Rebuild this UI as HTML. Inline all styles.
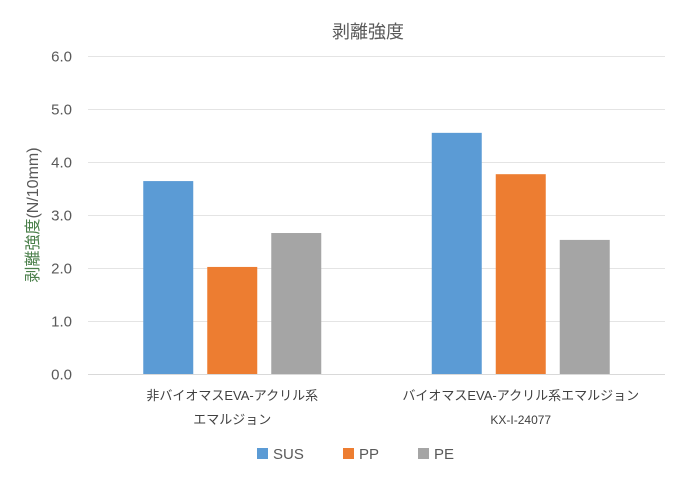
<!DOCTYPE html>
<html><head><meta charset="utf-8"><style>
body{margin:0;background:#fff;}
svg text{font-family:"Liberation Sans","Noto Sans CJK JP",sans-serif;}
</style></head><body>
<svg id="chart" width="679" height="491" xmlns="http://www.w3.org/2000/svg">
<rect width="679" height="491" fill="#fff"/>
<text x="368" y="38" text-anchor="middle" font-size="18" fill="#595959">剥離強度</text>
<g id="grid"></g>
<g id="bars"></g>
<g id="labels"></g>
<text transform="translate(38,215) rotate(-90)" text-anchor="middle" font-size="16" fill="#595959"><tspan fill="#4a7f4a">剥離強度</tspan>(N/10mm)</text>
<g>
<rect x="257" y="448" width="11" height="11" fill="#5b9bd5"/>
<text x="273" y="459" font-size="15" fill="#595959">SUS</text>
<rect x="343" y="448" width="11" height="11" fill="#ed7d31"/>
<text x="359" y="459" font-size="15" fill="#595959">PP</text>
<rect x="418" y="448" width="11" height="11" fill="#a5a5a5"/>
<text x="434" y="459" font-size="15" fill="#595959">PE</text>
</g>
</svg>
<script>
const categories=[["非バイオマスEVA-アクリル系","エマルジョン"],["バイオマスEVA-アクリル系エマルジョン","KX-I-24077"]];
const seriesNames=["SUS","PP","PE"];
const susValues=[3.64,4.55];
const ppValues=[2.02,3.77];
const peValues=[2.66,2.53];
const yTicks=["0.0","1.0","2.0","3.0","4.0","5.0","6.0"];
const colors=["#5b9bd5","#ed7d31","#a5a5a5"];
const NS="http://www.w3.org/2000/svg";
const x0=88,x1=665,yb=374,yt=56,ymax=6;
const y=v=>yb-(v/ymax)*(yb-yt);
const catW=(x1-x0)/categories.length;
function mk(tag,attrs,parent){const e=document.createElementNS(NS,tag);for(const k in attrs)e.setAttribute(k,attrs[k]);parent.appendChild(e);return e;}
const grid=document.getElementById('grid'),bars=document.getElementById('bars'),labels=document.getElementById('labels');
yTicks.forEach((t)=>{const v=parseFloat(t);const yy=Math.round(y(v))+0.5;
const l=mk('line',{x1:x0,x2:x1,y1:yy,y2:yy,stroke:v===0?'#d9d9d9':'#e4e4e4','stroke-width':1},grid);


const tx=mk('text',{x:72,y:yy+5,'text-anchor':'end','font-size':15,fill:'#595959'},grid);tx.textContent=t;

});
const all=[susValues,ppValues,peValues];
const bw=50,gap=14;
categories.forEach((c,i)=>{const cx=x0+catW*(i+0.5);
all.forEach((s,j)=>{const bx=cx-(bw*1.5+gap)+j*(bw+gap);
const r=mk('rect',{x:bx,y:y(s[i]),width:bw,height:yb-y(s[i]),fill:colors[j]},bars);

});
c.forEach((line,k)=>{const tx=mk('text',{x:cx,y:k===0?400:424,'text-anchor':'middle','font-size':k===1&&i===1?12:13,fill:'#404040'},labels);tx.textContent=line;

});});
</script>
</body></html>
